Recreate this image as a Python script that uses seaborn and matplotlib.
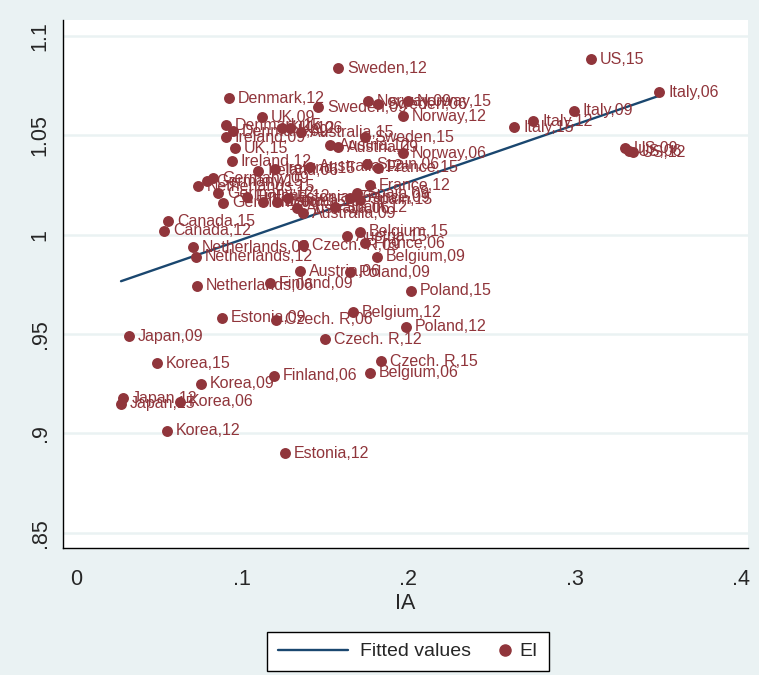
import numpy as np
import pandas as pd
import matplotlib
matplotlib.use("Agg")
import matplotlib.pyplot as plt
import seaborn as sns
from matplotlib.lines import Line2D
from matplotlib.legend_handler import HandlerLine2DCompound

# Country, survey year labels
labels = [
    "Sweden,12", "US,15", "Italy,06", "Denmark,12", "Sweden,09", "Norway,09",
    "Sweden,06", "Norway,15", "Norway,12", "UK,09", "Italy,09", "Italy,12",
    "Italy,15", "Denmark,15", "Denmark,09", "Ireland,09", "UK,12", "UK,06",
    "Australia,15", "Sweden,15", "Austria,12", "Austria,09", "UK,15", "Norway,06",
    "US,09", "US,06", "US,12", "Ireland,12", "Australia,12", "Spain,06",
    "France,15", "Ireland,06", "Ireland,15", "France,12", "Netherlands,15",
    "Germany,15", "Germany,09", "Germany,12", "Germany,06", "Finland,12",
    "Finland,15", "Estonia,15", "Estonia,06", "Australia,06", "Australia,09",
    "Spain,12", "France,09", "Spain,09", "Spain,15", "Canada,15", "Canada,12",
    "Belgium,15", "Austria,15", "France,06", "Czech. R,09", "Netherlands,09",
    "Netherlands,12", "Belgium,09", "Austria,06", "Poland,09", "Finland,09",
    "Netherlands,06", "Poland,15", "Belgium,12", "Estonia,09", "Czech. R,06",
    "Poland,12", "Czech. R,12", "Japan,09", "Korea,15", "Czech. R,15",
    "Belgium,06", "Finland,06", "Korea,09", "Japan,12", "Japan,15", "Korea,06",
    "Korea,12", "Estonia,12",
]

# IA values
ia = [
    0.1576, 0.3098, 0.3507, 0.0920, 0.1456, 0.1756,
    0.1817, 0.1997, 0.1967, 0.1119, 0.2995, 0.2749,
    0.2635, 0.0902, 0.0944, 0.0902, 0.1239, 0.1287,
    0.1353, 0.1738, 0.1528, 0.1576, 0.0956, 0.1967,
    0.3302, 0.3326, 0.3350, 0.0938, 0.1408, 0.1750,
    0.1817, 0.1095, 0.1197, 0.1768, 0.0734,
    0.0788, 0.0824, 0.0854, 0.0884, 0.1029,
    0.1125, 0.1209, 0.1275, 0.1329, 0.1365,
    0.1558, 0.1648, 0.1690, 0.1708, 0.0553, 0.0529,
    0.1708, 0.1630, 0.1738, 0.1365, 0.0704,
    0.0722, 0.1811, 0.1347, 0.1648, 0.1167,
    0.0728, 0.2015, 0.1666, 0.0878, 0.1203,
    0.1985, 0.1498, 0.0319, 0.0487, 0.1835,
    0.1768, 0.1191, 0.0752, 0.0283, 0.0271, 0.0626,
    0.0547, 0.1257,
]

# EI values
ei = [
    1.0839, 1.0884, 1.0718, 1.0688, 1.0643, 1.0673,
    1.0658, 1.0673, 1.0597, 1.0592, 1.0623, 1.0572,
    1.0542, 1.0552, 1.0522, 1.0492, 1.0537, 1.0537,
    1.0517, 1.0492, 1.0451, 1.0441, 1.0436, 1.0411,
    1.0436, 1.0421, 1.0416, 1.0371, 1.0341, 1.0356,
    1.0336, 1.0321, 1.0331, 1.0250, 1.0245,
    1.0270, 1.0285, 1.0210, 1.0160, 1.0190,
    1.0165, 1.0165, 1.0185, 1.0134, 1.0109,
    1.0139, 1.0185, 1.0210, 1.0175, 1.0069, 1.0019,
    1.0014, 0.9993, 0.9958, 0.9948, 0.9938,
    0.9888, 0.9888, 0.9817, 0.9812, 0.9757,
    0.9742, 0.9717, 0.9611, 0.9581, 0.9571,
    0.9536, 0.9475, 0.9490, 0.9354, 0.9364,
    0.9304, 0.9289, 0.9249, 0.9178, 0.9148, 0.9158,
    0.9012, 0.8901,
]

x_ticks = [0, 0.1, 0.2, 0.3, 0.4]
x_ticklabels = ["0", ".1", ".2", ".3", ".4"]
y_ticks = [0.85, 0.9, 0.95, 1.0, 1.05, 1.1]
y_ticklabels = [".85", ".9", ".95", "1", "1.05", "1.1"]

df = pd.DataFrame({"label": labels, "IA": ia, "EI": ei})

# Linear fit of EI on IA over the observed IA range
slope, intercept = np.polyfit(df["IA"], df["EI"], 1)
x_fit = np.array([df["IA"].min(), df["IA"].max()])
fit = pd.DataFrame({"IA": x_fit, "Fitted": intercept + slope * x_fit})

sns.set_style("white")
plt.rcParams["font.family"] = ["Liberation Sans", "DejaVu Sans"]

BG = "#EAF2F3"
MAROON = "#90353B"
NAVY = "#1A476F"


class MarkerAtRight(HandlerLine2DCompound):
    """Legend key with its marker sitting near the right end of the key."""

    def get_xdata(self, legend, xdescent, ydescent, width, height, fontsize):
        xdata, _ = super().get_xdata(legend, xdescent, ydescent, width,
                                     height, fontsize)
        return xdata, np.array([width - xdescent - 2.0])


fig = plt.figure(figsize=(7.59, 6.75), dpi=100, facecolor=BG)
ax = fig.add_axes([63 / 759, 1 - 548 / 675, (748 - 63) / 759, (548 - 20) / 675])
ax.set_facecolor("white")

for yv in y_ticks:
    ax.axhline(yv, color=BG, lw=1.8, zorder=0)

sns.lineplot(data=fit, x="IA", y="Fitted", color=NAVY, lw=1.7, ax=ax,
             legend=False, zorder=2)
sns.scatterplot(data=df, x="IA", y="EI", color=MAROON, s=62, linewidth=0,
                ax=ax, legend=False, zorder=3)

for _, row in df.iterrows():
    ax.annotate(row["label"], (row["IA"], row["EI"]), xytext=(6.5, 0),
                textcoords="offset points", ha="left", va="center",
                color=MAROON, fontsize=11.5, zorder=4)

ax.set_xlim(-0.0078, 0.4042)
ax.set_ylim(0.8423, 1.1081)
ax.set_xticks(x_ticks)
ax.set_xticklabels(x_ticklabels, fontsize=15.5)
ax.set_yticks(y_ticks)
ax.set_yticklabels(y_ticklabels, fontsize=15.5, rotation=90, va="center")
ax.tick_params(axis="x", length=9, width=1, color="black", pad=6, direction="out")
ax.tick_params(axis="y", length=6, width=1, color="black", pad=3, direction="out")
ax.set_xlabel("IA", fontsize=15.5, labelpad=2)
ax.set_ylabel("")

for side in ["top", "right"]:
    ax.spines[side].set_visible(False)
for side in ["left", "bottom"]:
    ax.spines[side].set_color("black")
    ax.spines[side].set_linewidth(1)

fit_key = Line2D([], [], color=NAVY, lw=1.7, label="Fitted values")
ei_key = Line2D([], [], marker="o", ls="", color=MAROON, markersize=8, label="EI")
leg = fig.legend(handles=[fit_key, ei_key], loc="upper center",
                 bbox_to_anchor=(408 / 759, 1 - 632 / 675), ncol=2,
                 frameon=True, fancybox=False, edgecolor="black",
                 facecolor="white", framealpha=1, fontsize=14,
                 handlelength=3.6, handletextpad=0.6, columnspacing=-1.7,
                 borderpad=0.55, borderaxespad=0,
                 handler_map={ei_key: MarkerAtRight()})
leg.get_frame().set_linewidth(1)

fig.savefig("out.png", dpi=100, facecolor=BG)
